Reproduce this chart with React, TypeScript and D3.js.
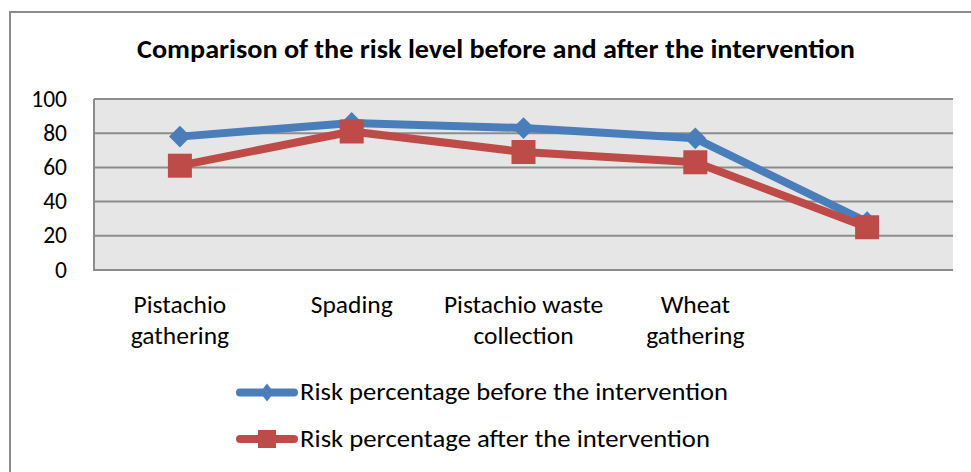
import React, { useEffect, useRef } from "react";
import * as d3 from "d3";

const categories = ["Pistachio gathering", "Spading", "Pistachio waste collection", "Wheat gathering", ""];
const categoryLines = [["Pistachio", "gathering"], ["Spading"], ["Pistachio waste", "collection"], ["Wheat", "gathering"], [""]];
const before = [78, 86, 83, 77, 28];
const after = [61, 81, 69, 63, 25];
const yTicks = [0, 20, 40, 60, 80, 100];
const seriesNames = ["Risk percentage before the intervention", "Risk percentage after the intervention"];

const W = 971;
const H = 472;
const FONT = "Carlito, Lato, sans-serif";
const BLUE = "#4a7ebb";
const RED = "#be4b48";

const App = () => {
  const svgRef = useRef<SVGSVGElement>(null);

  useEffect(() => {
    const svg = d3.select(svgRef.current);
    svg.selectAll("*").remove();

    const plot = { left: 94, right: 953, top: 99, bottom: 270 };

    // outer chart border, runs off right/bottom of the picture
    svg.append("rect")
      .attr("x", 10).attr("y", 12)
      .attr("width", 990).attr("height", 500)
      .attr("fill", "white").attr("stroke", "#8c8c8c").attr("stroke-width", 2);

    svg.append("text")
      .attr("x", 137).attr("y", 58)
      .attr("textLength", 718).attr("lengthAdjust", "spacingAndGlyphs")
      .style("font-family", FONT).style("font-weight", "bold").style("font-size", "26px")
      .text("Comparison of the risk level before and after the intervention");

    const x = d3.scaleBand().domain(categories.map((d, i) => String(i))).range([plot.left, plot.right]);
    const y = d3.scaleLinear().domain([0, 100]).range([plot.bottom, plot.top]);
    const cx = (i: number) => (x(String(i)) as number) + x.bandwidth() / 2;

    svg.append("rect")
      .attr("x", plot.left).attr("y", plot.top)
      .attr("width", plot.right - plot.left).attr("height", plot.bottom - plot.top)
      .attr("fill", "#e6e6e6");

    svg.append("g").selectAll("line").data(yTicks).enter().append("line")
      .attr("x1", plot.left).attr("x2", plot.right)
      .attr("y1", (d) => y(d)).attr("y2", (d) => y(d))
      .attr("stroke", "#8c8c8c").attr("stroke-width", 2);

    svg.append("line")
      .attr("x1", plot.left).attr("x2", plot.left)
      .attr("y1", plot.top).attr("y2", plot.bottom + 1)
      .attr("stroke", "#8c8c8c").attr("stroke-width", 2);

    svg.append("g").selectAll("text").data(yTicks).enter().append("text")
      .attr("x", 67).attr("y", (d) => y(d) + 7.5)
      .attr("text-anchor", "end")
      .style("font-family", FONT).style("font-size", "23.5px")
      .text((d) => d);

    const labels = svg.append("g").selectAll("text").data(categoryLines).enter().append("text")
      .attr("text-anchor", "middle")
      .style("font-family", FONT).style("font-size", "25.5px");
    labels.each(function (lines, i) {
      d3.select(this).selectAll("tspan").data(lines).enter().append("tspan")
        .attr("x", cx(i))
        .attr("y", (_, j) => 313 + j * 31)
        .text((d) => d);
    });

    const line = d3.line<number>().x((_, i) => cx(i)).y((d) => y(d));
    const diamond = d3.symbol().type(d3.symbolDiamond2).size(300);

    const drawSeries = (vals: number[], color: string, square: boolean) => {
      svg.append("path").datum(vals)
        .attr("d", line).attr("fill", "none")
        .attr("stroke", color).attr("stroke-width", 8).attr("stroke-linejoin", "round");
      const g = svg.append("g");
      vals.forEach((v, i) => {
        if (square) {
          g.append("rect").attr("x", cx(i) - 12).attr("y", y(v) - 12)
            .attr("width", 24).attr("height", 24).attr("fill", color);
        } else {
          g.append("path").attr("d", diamond as any)
            .attr("transform", `translate(${cx(i)},${y(v)})`).attr("fill", color);
        }
      });
    };
    drawSeries(before, BLUE, false);
    drawSeries(after, RED, true);

    // legend
    const legendY = [392.5, 439];
    const legendW = [428, 410];
    [BLUE, RED].forEach((color, k) => {
      const ly = legendY[k];
      svg.append("line")
        .attr("x1", 240).attr("x2", 294).attr("y1", ly).attr("y2", ly)
        .attr("stroke", color).attr("stroke-width", 8).attr("stroke-linecap", "round");
      if (k === 0) {
        svg.append("path").attr("d", "M0,-9L7,0L0,9L-7,0Z")
          .attr("transform", `translate(267,${ly})`).attr("fill", color);
      } else {
        svg.append("rect").attr("x", 258).attr("y", ly - 9).attr("width", 18).attr("height", 18).attr("fill", color);
      }
      svg.append("text")
        .attr("x", 300).attr("y", ly + 7.5)
        .attr("textLength", legendW[k]).attr("lengthAdjust", "spacingAndGlyphs")
        .style("font-family", FONT).style("font-size", "24px")
        .text(seriesNames[k]);
    });
  }, []);

  return (
    <svg ref={svgRef} width={W} height={H}
      style={{ position: "absolute", left: 0, top: 0, background: "white" }} />
  );
};

export default App;
